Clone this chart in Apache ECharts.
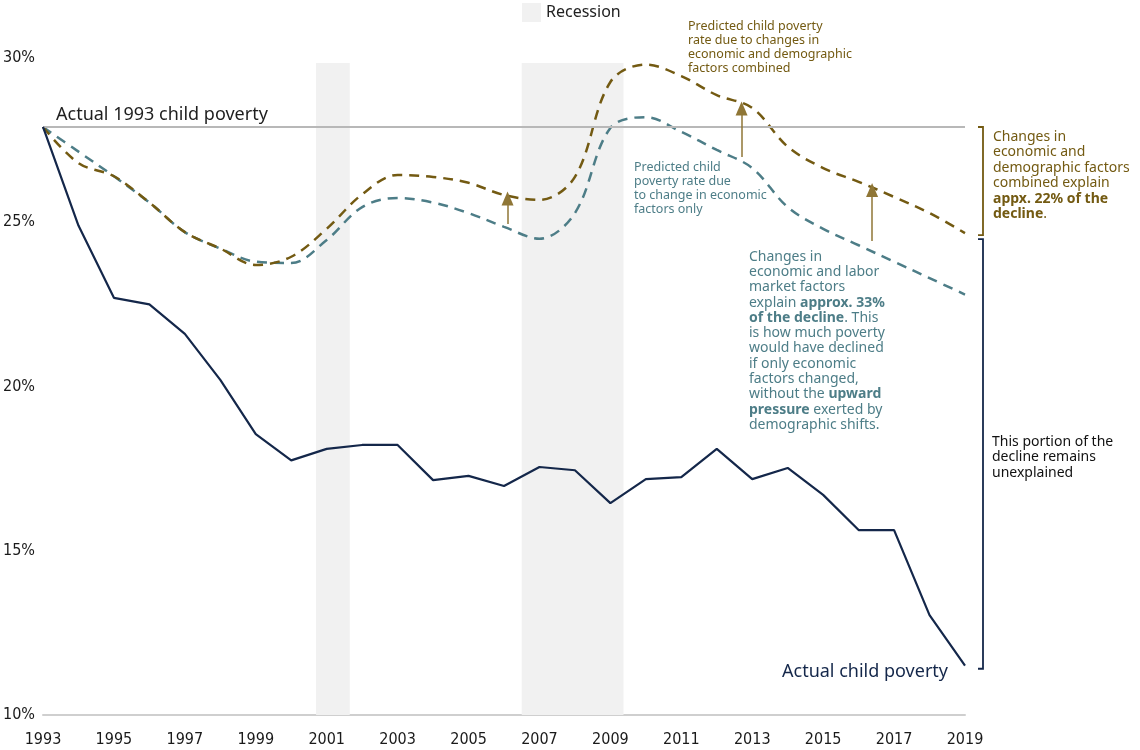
<!DOCTYPE html>
<html>
<head>
<meta charset="utf-8">
<script src="https://cdn.jsdelivr.net/npm/echarts@6/dist/echarts.min.js"></script>
<style>
  html, body { margin: 0; padding: 0; background: #fff; }
  #chart { width: 1140px; height: 750px; }
</style>
</head>
<body>
<div id="chart"></div>
<script>
const years = [1993, 1994, 1995, 1996, 1997, 1998, 1999, 2000, 2001, 2002, 2003, 2004, 2005,
  2006, 2007, 2008, 2009, 2010, 2011, 2012, 2013, 2014, 2015, 2016, 2017, 2018, 2019]

const actualPoverty = [27.9, 24.9, 22.7, 22.5, 21.6, 20.2, 18.55, 17.75, 18.1, 18.22, 18.22, 17.15, 17.28,
  16.97, 17.55, 17.45, 16.45, 17.18, 17.24, 18.1, 17.18, 17.52, 16.7, 15.63, 15.63, 13.04, 11.5]

const economicOnly = [27.9, 27.15, 26.4, 25.6, 24.7, 24.2, 23.8, 23.76, 24.46, 25.46, 25.74, 25.6, 25.28,
  24.86, 24.5, 25.28, 27.87, 28.2, 27.75, 27.2, 26.65, 25.46, 24.8, 24.3, 23.8, 23.3, 22.8]

const combined = [27.9, 26.8, 26.4, 25.6, 24.7, 24.2, 23.7, 23.95, 24.8, 25.85, 26.44, 26.38, 26.2,
  25.83, 25.68, 26.38, 29.27, 29.8, 29.45, 28.87, 28.48, 27.3, 26.65, 26.23, 25.77, 25.28, 24.67]

// recession periods, in fractional years
const recessions = [[2000.7, 2001.65], [2006.5, 2009.37]]
const recessionTop = 29.85

// arrows: [year, from, to]
const arrows = [[2006.1, 24.95, 25.72], [2012.7, 26.99, 28.46], [2016.38, 24.43, 25.98]]

const baseline = 27.9
const yTicks = [10, 15, 20, 25, 30]

const NAVY = '#14274a'
const TEAL = '#4d7d87'
const OLIVE = '#735a12'
const ARROW = '#8f7636'
const GOTHAM = "'Noto Sans', sans-serif"
const NARROW = "'Liberation Sans Narrow', 'DejaVu Sans Condensed', sans-serif"

const chart = echarts.init(document.getElementById('chart'))

const toPairs = arr => arr.map((v, i) => [years[i], v])

const option = {
  animation: false,
  textStyle: { fontFamily: GOTHAM },
  legend: {
    data: ['Recession'],
    left: 517,
    top: -2,
    icon: 'rect',
    itemWidth: 19,
    itemHeight: 19,
    itemGap: 5,
    textStyle: { fontSize: 16, color: '#222', fontFamily: GOTHAM }
  },
  grid: { left: 42, right: 175, top: 58, bottom: 35, containLabel: false },
  xAxis: {
    type: 'value',
    min: 1993,
    max: 2019,
    interval: 1,
    axisLine: { show: true, lineStyle: { color: '#cfcfcf', width: 2 } },
    axisTick: { show: false },
    splitLine: { show: false },
    axisLabel: {
      margin: 17,
      fontFamily: NARROW,
      fontSize: 16,
      color: '#1a1a1a',
      formatter: v => (v % 2 === 1 ? String(v) : '')
    }
  },
  yAxis: {
    type: 'value',
    min: 10,
    max: 30,
    interval: 5,
    axisLine: { show: false },
    axisTick: { show: false },
    splitLine: { show: false },
    axisLabel: {
      align: 'left',
      margin: 40,
      fontFamily: NARROW,
      fontSize: 16,
      color: '#1a1a1a',
      formatter: v => (yTicks.includes(v) ? v + '%' : '')
    }
  },
  series: [
    {
      name: 'Recession',
      type: 'line',
      data: [],
      itemStyle: { color: '#f1f1f1' },
      lineStyle: { color: '#f1f1f1' },
      markArea: {
        silent: true,
        itemStyle: { color: '#f1f1f1' },
        data: recessions.map(r => [{ xAxis: r[0], yAxis: 10 }, { xAxis: r[1], yAxis: recessionTop }])
      },
      z: 1
    },
    {
      name: 'Baseline',
      type: 'line',
      data: [],
      markLine: {
        silent: true,
        symbol: ['none', 'none'],
        lineStyle: { color: '#b8b8b8', width: 2, type: 'solid' },
        label: { show: false },
        data: [[{ coord: [1993, baseline] }, { coord: [2019, baseline] }]]
      },
      z: 2
    },
    {
      name: 'Economic factors only',
      type: 'line',
      data: toPairs(economicOnly),
      smooth: 0.35,
      symbol: 'none',
      lineStyle: { color: TEAL, width: 2.5, type: [10, 7] },
      z: 3
    },
    {
      name: 'Economic and demographic combined',
      type: 'line',
      data: toPairs(combined),
      smooth: 0.35,
      symbol: 'none',
      lineStyle: { color: OLIVE, width: 2.5, type: [10, 7] },
      markLine: {
        silent: true,
        symbol: ['none', 'triangle'],
        symbolSize: [12, 14],
        lineStyle: { color: ARROW, width: 1.5, type: 'solid' },
        itemStyle: { color: OLIVE },
        label: { show: false },
        data: arrows.map(a => [{ coord: [a[0], a[1]] }, { coord: [a[0], a[2]] }])
      },
      z: 4
    },
    {
      name: 'Actual child poverty',
      type: 'line',
      data: toPairs(actualPoverty),
      symbol: 'none',
      lineStyle: { color: NAVY, width: 2.2 },
      z: 5
    }
  ]
}

chart.setOption(option)

// annotations placed next to the data using the chart's own scales
const px = (x, y) => chart.convertToPixel({ gridIndex: 0 }, [x, y])
const pBase = px(1993, baseline)
const pComb = px(2019, combined[combined.length - 1])
const pAct = px(2019, actualPoverty[actualPoverty.length - 1])
const bx = pComb[0] + 18

function bracket (y1, y2, color) {
  return {
    type: 'polyline',
    silent: true,
    shape: { points: [[bx - 5, y1], [bx, y1], [bx, y2], [bx - 5, y2]] },
    style: { stroke: color, lineWidth: 1.8, fill: null }
  }
}

chart.setOption({
  graphic: [
    bracket(pBase[1], pComb[1] + 2, OLIVE),
    bracket(pComb[1] + 6, pAct[1] + 3, NAVY),
    {
      type: 'text', left: 56, top: 106,
      style: { text: 'Actual 1993 child poverty', fill: '#1e1e1e', font: '18px ' + GOTHAM }
    },
    {
      type: 'text', left: 782, top: 663,
      style: { text: 'Actual child poverty', fill: NAVY, font: '18px ' + GOTHAM }
    },
    {
      type: 'text', left: 688, top: 20,
      style: {
        text: 'Predicted child poverty\nrate due to changes in\neconomic and demographic\nfactors combined',
        fill: OLIVE, font: '12.5px ' + GOTHAM, lineHeight: 13.7
      }
    },
    {
      type: 'text', left: 634, top: 161,
      style: {
        text: 'Predicted child\npoverty rate due\nto change in economic\nfactors only',
        fill: TEAL, font: '12.5px ' + GOTHAM, lineHeight: 13.7
      }
    },
    {
      type: 'text', left: 749, top: 249,
      style: {
        text: 'Changes in\neconomic and labor\nmarket factors\nexplain {b|approx. 33%}\n{b|of the decline}. This\nis how much poverty\nwould have declined\nif only economic\nfactors changed,\nwithout the {b|upward}\n{b|pressure} exerted by\ndemographic shifts.',
        fill: TEAL, font: '14px ' + GOTHAM, lineHeight: 15.3,
        rich: { b: { fontWeight: 'bold', fill: TEAL, fontSize: 14, fontFamily: GOTHAM } }
      }
    },
    {
      type: 'text', left: 993, top: 129,
      style: {
        text: 'Changes in\neconomic and\ndemographic factors\ncombined explain\n{b|appx. 22% of the}\n{b|decline}.',
        fill: OLIVE, font: '14px ' + GOTHAM, lineHeight: 15.5,
        rich: { b: { fontWeight: 'bold', fill: OLIVE, fontSize: 14, fontFamily: GOTHAM } }
      }
    },
    {
      type: 'text', left: 992, top: 434,
      style: {
        text: 'This portion of the\ndecline remains\nunexplained',
        fill: '#111', font: '14px ' + GOTHAM, lineHeight: 15.5
      }
    }
  ]
})
</script>
</body>
</html>
